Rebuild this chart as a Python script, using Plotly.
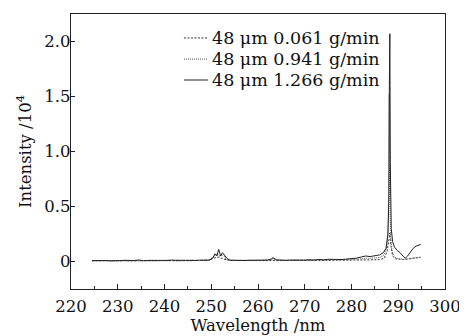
import plotly.graph_objects as go

# ---- data (intensity in units of 10^4) ----
wl_a = [224.5, 225.5, 226.5, 227.5, 228.5, 229.5, 230.5, 231.5, 232.5, 233.5,
        234.5, 235.5, 236.5, 237.5, 238.5, 239.5, 240.5, 241.5, 242.5, 243.5,
        244.5, 245.5, 246.5, 247.5, 248.5, 249.5, 250.5, 251.5, 252.5, 253.5,
        254.5, 256.0, 258.0, 260.0, 262.0, 264.0, 266.0, 268.0, 270.0, 272.0,
        274.0, 276.0, 278.0, 280.0, 282.0, 284.0, 286.0, 287.0, 287.6, 288.0,
        288.2, 288.4, 288.8, 289.4, 290.0, 291.0, 292.0, 293.0, 294.0, 294.8]
int_a = [0.006, 0.008, 0.005, 0.007, 0.006, 0.008, 0.006, 0.007, 0.005, 0.008,
         0.007, 0.006, 0.008, 0.007, 0.006, 0.008, 0.007, 0.006, 0.008, 0.007,
         0.008, 0.007, 0.009, 0.008, 0.007, 0.009, 0.030, 0.040, 0.025, 0.012,
         0.009, 0.008, 0.009, 0.007, 0.009, 0.008, 0.010, 0.009, 0.010, 0.011,
         0.010, 0.012, 0.011, 0.013, 0.014, 0.015, 0.017, 0.030, 0.090, 0.200,
         0.260, 0.150, 0.050, 0.025, 0.020, 0.018, 0.022, 0.030, 0.035, 0.038]

wl_b = [224.5, 225.5, 226.5, 227.5, 228.5, 229.5, 230.5, 231.5, 232.5, 233.5,
        234.5, 235.5, 236.5, 237.5, 238.5, 239.5, 240.5, 241.5, 242.5, 243.5,
        244.5, 245.5, 246.5, 247.5, 248.5, 249.5, 250.5, 251.2, 251.8, 252.5,
        253.2, 254.0, 256.0, 258.0, 260.0, 262.0, 263.2, 264.0, 266.0, 268.0,
        270.0, 272.0, 274.0, 276.0, 278.0, 280.0, 282.0, 284.0, 286.0, 287.0,
        287.6, 287.9, 288.05, 288.2, 288.4, 288.7, 289.2, 290.0, 291.0, 292.0,
        293.0, 294.0, 294.8]
int_b = [0.007, 0.009, 0.006, 0.008, 0.007, 0.009, 0.008, 0.007, 0.009, 0.008,
         0.010, 0.007, 0.009, 0.008, 0.010, 0.008, 0.009, 0.010, 0.008, 0.010,
         0.009, 0.011, 0.009, 0.010, 0.011, 0.010, 0.040, 0.070, 0.050, 0.060,
         0.020, 0.011, 0.010, 0.012, 0.010, 0.012, 0.025, 0.012, 0.011, 0.013,
         0.012, 0.014, 0.013, 0.015, 0.016, 0.020, 0.025, 0.030, 0.035, 0.060,
         0.150, 0.400, 1.520, 0.600, 0.220, 0.090, 0.040, 0.025, 0.020, 0.025,
         0.030, 0.035, 0.040]

wl_c = [224.5, 225.5, 226.5, 227.5, 228.5, 229.5, 230.5, 231.5, 232.5, 233.5,
        234.5, 235.5, 236.5, 237.5, 238.5, 239.5, 240.5, 241.5, 242.5, 243.5,
        244.5, 245.5, 246.5, 247.5, 248.5, 249.5, 250.3, 250.8, 251.2, 251.6,
        252.0, 252.4, 252.8, 253.3, 254.0, 255.0, 256.0, 257.0, 258.0, 259.0,
        260.0, 261.0, 262.0, 262.8, 263.2, 264.0, 265.0, 266.0, 267.0, 268.0,
        269.0, 270.0, 271.0, 272.0, 273.0, 274.0, 275.0, 276.0, 277.0, 278.0,
        279.0, 280.0, 281.0, 282.0, 283.0, 284.0, 285.0, 286.0, 286.8, 287.4,
        287.8, 288.0, 288.1, 288.2, 288.3, 288.5, 288.8, 289.2, 289.8, 290.4,
        291.0, 291.5, 292.0, 292.6, 293.2, 293.8, 294.4, 294.8]
int_c = [0.008, 0.010, 0.007, 0.009, 0.006, 0.010, 0.008, 0.011, 0.007, 0.009,
         0.014, 0.008, 0.010, 0.009, 0.011, 0.008, 0.010, 0.012, 0.009, 0.011,
         0.010, 0.013, 0.010, 0.012, 0.011, 0.013, 0.030, 0.070, 0.050, 0.110,
         0.050, 0.080, 0.060, 0.030, 0.012, 0.010, 0.013, 0.009, 0.011, 0.010,
         0.012, 0.011, 0.013, 0.020, 0.035, 0.015, 0.012, 0.010, 0.013, 0.011,
         0.014, 0.012, 0.016, 0.013, 0.018, 0.015, 0.020, 0.017, 0.019, 0.018,
         0.022, 0.025, 0.030, 0.040, 0.050, 0.045, 0.050, 0.060, 0.080, 0.120,
         0.250, 0.600, 1.600, 2.070, 0.900, 0.300, 0.180, 0.130, 0.100, 0.080,
         0.050, 0.030, 0.050, 0.090, 0.120, 0.140, 0.150, 0.155]

series_names = ["48 \u03bcm 0.061 g/min", "48 \u03bcm 0.941 g/min", "48 \u03bcm 1.266 g/min"]
x_ticks = [220, 230, 240, 250, 260, 270, 280, 290, 300]
y_ticks = [0, 0.5, 1.0, 1.5, 2.0]
y_tick_text = ["0", "0.5", "1.0", "1.5", "2.0"]

FONT = "DejaVu Serif"
styles = [
    dict(color="#333333", width=1, dash="2px,1.5px"),
    dict(color="#777777", width=1.2, dash="1px,1px"),
    dict(color="#222222", width=1),
]

fig = go.Figure()
for wl, val, name, st in zip([wl_a, wl_b, wl_c], [int_a, int_b, int_c], series_names, styles):
    fig.add_trace(go.Scatter(x=wl, y=val, mode="lines", name=name, line=st,
                             showlegend=False))

# hand-placed legend (paper coordinates)
legend_rows_y = [0.913, 0.836, 0.760]
for name, st, yy in zip(series_names, styles, legend_rows_y):
    fig.add_shape(type="line", xref="paper", yref="paper",
                  x0=0.302, x1=0.366, y0=yy, y1=yy, line=st)
    fig.add_annotation(xref="paper", yref="paper", x=0.372, y=yy,
                       xanchor="left", yanchor="middle", showarrow=False,
                       text=name, font=dict(family=FONT, size=17.5, color="#111111"))

fig.update_layout(
    width=459, height=328,
    margin=dict(l=63, r=22, t=6, b=47),
    paper_bgcolor="white", plot_bgcolor="white",
    font=dict(family=FONT, size=16, color="#111111"),
    showlegend=False,
)
fig.update_xaxes(
    automargin=False,
    range=[220, 300], tickvals=x_ticks, ticks="inside", ticklen=5,
    tickcolor="#222222", showgrid=False, zeroline=False,
    showline=True, linecolor="#222222", linewidth=1.2, mirror=True,
    minor=dict(ticks="inside", ticklen=3, dtick=5, tickcolor="#222222"),
    tickfont=dict(family=FONT, size=16.5), ticklabelstandoff=2,
    title=dict(text="Wavelength /nm", font=dict(family=FONT, size=16.5), standoff=2),
)
fig.update_yaxes(
    automargin=False,
    range=[-0.25, 2.25], tickvals=y_ticks, ticktext=y_tick_text,
    ticks="inside", ticklen=4, tickcolor="#222222",
    showgrid=False, zeroline=False,
    showline=True, linecolor="#222222", linewidth=1.2, mirror=True,
    tickfont=dict(family=FONT, size=16.5), ticklabelstandoff=-4,
    title=dict(text="Intensity /10<sup>4</sup>", font=dict(family=FONT, size=16.5), standoff=8),
)

fig.write_html("out.html")
